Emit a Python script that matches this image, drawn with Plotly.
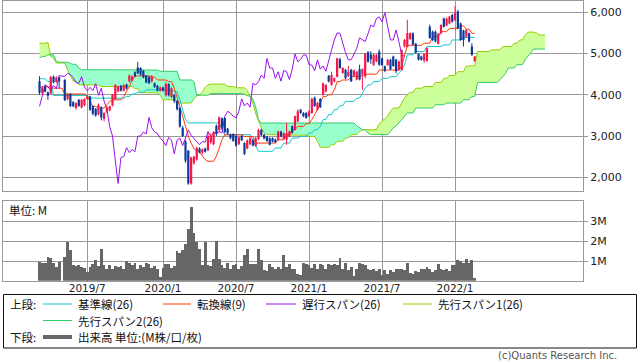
import plotly.graph_objects as go
import pandas as pd

# ---------------- data (weekly) ----------------
START = "2019-03-04"
N_PRICE = 156
N_CLOUD = 181
CHIKOU_SHIFT = 25

open_ = [4330, 4050, 4200, 4060, 4030, 4440, 4310, 4420, None, 4360,
         3890, 4020, 3820, 3680, 3880, 3690, 3750, 3900, 3960, 3720,
         3660, 3530, 3700, 3420, 3580, 3620, 3740, 3900, 4080, 4220,
         4100, 4250, 4320, 4350, 4550, 4660, 4650, 4580, 4460, 4430,
         4320, 4280, 4220, 4100, 4180, 3990, 4260, 3950, 4000, 3850,
         3680, 3200, 2870, 2650, 1850, 2350, 2430, 2700, 2600, 2700,
         2650, 2850, 2800, 3250, 3150, 3430, 3440, 3180, 3040, 3050,
         3000, 2800, 3000, 2830, 2700, 2800, 2900, 2760, 2930, 3150,
         3030, 2990, 2950, 2950, 2920, 2910, 3110, 2930, 2910, 2990,
         3240, 3150, 3360, 3640, 3560, 3560, 3480, 3560, 3930, 3640,
         3900, 4000, 4080, 4460, 4240, 4320, 4440, 4860, 4530, 4610,
         4450, 4610, 4460, 4370, 4620, 4500, 4450, 5030, 4980, 4730,
         4810, 5050, 4880, 4690, 4720, 4850, 4930, 4850, 4600, 4600,
         5170, 5160, 5350, 5490, 5240, 4990, 4930, 4830, 4820, 5650,
         5530, 5530, 5240, 5490, 5850, 5680, 5730, 5935, 5810, 6020,
         5730, 5560, 5410, 5490, 5170, 4820]

high = [4450, 4210, 4240, 4080, 4460, 4470, 4450, 4440, None, 4380,
        4050, 4040, 3850, 3820, 3900, 3900, 3920, 3990, 3980, 3750,
        3680, 3790, 3720, 3580, 3720, 3740, 4020, 4260, 4220, 4240,
        4260, 4270, 4490, 4470, 4570, 4800, 4670, 4600, 4480, 4450,
        4480, 4300, 4240, 4200, 4200, 4300, 4280, 4180, 4020, 3870,
        3700, 3250, 2900, 2650, 2500, 2520, 2740, 2730, 2700, 2720,
        3100, 3060, 3120, 3280, 3480, 3450, 3450, 3200, 3060, 3070,
        3040, 2990, 3020, 2850, 2920, 2980, 2920, 2980, 3180, 3180,
        3050, 3000, 2970, 2970, 2940, 3130, 3130, 3090, 3320, 3130,
        3260, 3500, 3650, 3660, 3580, 3580, 3620, 3930, 3960, 3830,
        3920, 4300, 4260, 4480, 4560, 4420, 4900, 4900, 4670, 4630,
        4700, 4630, 4610, 4580, 4730, 4640, 5010, 5060, 5060, 4990,
        4990, 5100, 4900, 4710, 4870, 4870, 4950, 4870, 4830, 5100,
        5350, 5820, 5510, 5510, 5260, 5010, 4950, 5010, 5150, 5700,
        5560, 5560, 5500, 5710, 5870, 5870, 5910, 5960, 6150, 6060,
        5750, 5580, 5590, 5510, 5250, 4940]

low = [4000, 4010, 4060, 3880, 4000, 4280, 4290, 4160, None, 3850,
       3870, 3700, 3700, 3640, 3710, 3670, 3720, 3880, 3610, 3500,
       3470, 3500, 3380, 3360, 3560, 3600, 3720, 3880, 4060, 4080,
       4080, 4130, 4300, 4330, 4430, 4500, 4470, 4400, 4280, 4260,
       4300, 4170, 4080, 4080, 4080, 3960, 3960, 3920, 3800, 3620,
       3200, 2980, 2350, 1820, 1820, 2300, 2400, 2580, 2560, 2600,
       2650, 2800, 2780, 3000, 3100, 3150, 3060, 3040, 2920, 2860,
       2740, 2780, 2880, 2540, 2680, 2780, 2750, 2740, 2900, 3000,
       2920, 2860, 2770, 2850, 2830, 2890, 2970, 2910, 2790, 2970,
       3060, 3130, 3340, 3540, 3460, 3420, 3460, 3540, 3710, 3620,
       3680, 3980, 4060, 4300, 4220, 4300, 4420, 4630, 4510, 4380,
       4430, 4310, 4440, 4350, 4350, 4120, 4400, 4780, 4750, 4700,
       4790, 4700, 4700, 4550, 4700, 4600, 4680, 4520, 4580, 4580,
       5150, 5150, 5330, 5200, 5000, 4830, 4830, 4780, 4800, 5360,
       5300, 5270, 5220, 5470, 5630, 5660, 5710, 5750, 5790, 5590,
       5310, 5170, 5390, 5270, 4940, 4800]

close = [4050, 4180, 4080, 3980, 4430, 4300, 4420, 4330, None, 3870,
         4000, 3730, 3720, 3800, 3730, 3880, 3900, 3960, 3640, 3540,
         3500, 3760, 3450, 3560, 3700, 3720, 4000, 4240, 4200, 4100,
         4230, 4150, 4470, 4450, 4450, 4520, 4490, 4420, 4300, 4280,
         4440, 4190, 4100, 4180, 4100, 4270, 3990, 4160, 3850, 3650,
         3230, 3000, 2400, 1850, 2480, 2500, 2720, 2600, 2680, 2620,
         3000, 3000, 3100, 3050, 3450, 3200, 3100, 3060, 2950, 2880,
         2770, 2970, 2900, 2570, 2900, 2950, 2770, 2950, 3150, 3020,
         2940, 2880, 2790, 2870, 2850, 3110, 2990, 3070, 3070, 3110,
         3080, 3480, 3600, 3560, 3480, 3440, 3600, 3900, 3730, 3800,
         3700, 4280, 4240, 4320, 4480, 4400, 4880, 4650, 4650, 4400,
         4560, 4330, 4590, 4560, 4370, 4620, 4990, 4800, 4860, 4970,
         4960, 4730, 4720, 4580, 4850, 4620, 4700, 4570, 4800, 5080,
         5330, 5500, 5490, 5220, 5020, 4850, 4850, 4990, 5130, 5380,
         5330, 5290, 5480, 5690, 5650, 5850, 5890, 5770, 5990, 5610,
         5330, 5330, 5570, 5290, 4970, 4930]

volume_m = [0.95, 0.93, 0.93, 1.22, 1.15, 0.93, 0.72, 0.95, None, 1.22,
            1.97, 1.57, 0.8, 0.75, 0.8, 0.7, 0.68, 0.45, 0.72, 0.85,
            1.07, 0.75, 1.6, 0.8, 0.6, 0.8, 0.6, 0.75, 0.7, 0.75,
            0.6, 1.0, 0.9, 0.8, 0.9, 0.62, 0.8, 0.7, 0.9, 0.85,
            0.65, 0.75, 0.6, 0.2, 0.68, 0.85, 0.85, 0.65, 0.75, 1.5,
            1.4, 1.55, 1.85, 2.6, 3.7, 2.4, 1.97, 1.6, 0.8, 1.97,
            0.8, 0.75, 1.1, 2.0, 1.1, 0.8, 0.65, 0.9, 0.6, 0.8,
            0.85, 0.6, 0.75, 1.3, 1.6, 0.85, 0.85, 0.88, 1.6, 1.05,
            0.55, 0.5, 0.88, 0.72, 0.63, 0.72, 0.6, 1.33, 0.72, 0.88,
            0.63, 0.63, 0.38, 0.33, 0.93, 0.88, 0.8, 0.67, 0.88, 0.63,
            0.88, 0.8, 0.63, 0.88, 0.8, 0.88, 0.8, 1.18, 0.63, 0.93,
            0.55, 0.72, 0.27, 0.6, 0.93, 0.88, 0.8, 0.63, 0.55, 0.6,
            0.5, 0.63, 0.33, 0.55, 0.38, 0.55, 0.47, 0.6, 0.6, 0.63,
            0.55, 0.93, 0.43, 0.38, 0.5, 0.47, 0.63, 0.6, 0.72, 0.6,
            0.47, 0.55, 0.88, 0.63, 0.55, 0.63, 0.5, 0.8, 0.83, 1.05,
            1.0, 0.93, 1.1, 0.93, 1.05, 0.17]

tenkan = [4190, 4190, 4190, 4190, 4190, 4160, 4160, 4160, 4160, 4020,
          4020, 4020, 4020, 4020, 4020, 4020, 4020, 3960, 3850, 3720,
          3720, 3680, 3680, 3680, 3760, 3840, 3880, 3880, 3880, 3880,
          3960, 4080, 4200, 4360, 4440, 4460, 4460, 4460, 4460, 4460,
          4430, 4430, 4360, 4360, 4360, 4360, 4320, 4320, 4160, 3960,
          3720, 3480, 3235, 3000, 2830, 2700, 2630, 2630, 2510, 2430,
          2390, 2390, 2390, 2510, 2710, 2910, 3030, 3030, 3030, 3030,
          3030, 3030, 3030, 2990, 2990, 2990, 2990, 2830, 2830, 2830,
          2830, 2830, 2830, 2830, 2830, 2910, 2910, 2910, 3030, 3030,
          3155, 3155, 3235, 3235, 3235, 3300, 3300, 3400, 3520, 3640,
          3800, 3960, 3960, 4000, 4000, 4120, 4320, 4320, 4360, 4360,
          4360, 4440, 4440, 4440, 4460, 4460, 4500, 4500, 4500, 4500,
          4500, 4600, 4600, 4600, 4600, 4600, 4600, 4600, 4600, 4700,
          4930, 5200, 5200, 5200, 5200, 5200, 5200, 5250, 5250, 5250,
          5410, 5410, 5410, 5530, 5530, 5530, 5610, 5610, 5610, 5610,
          5670, 5670, 5590, 5590, 5490, 5490]

kijun = [4390, 4390, 4390, 4320, 4320, 3985, 3985, 3985, 3985, 3985,
         3985, 3985, 3985, 3985, 3985, 3985, 3985, 3985, 3920, 3920,
         3920, 3920, 3920, 3920, 3920, 3920, 3920, 3920, 3920, 3920,
         3920, 3960, 3960, 4020, 4020, 4060, 4060, 4060, 4120, 4120,
         4120, 4120, 4120, 4120, 4120, 4120, 4120, 4120, 4080, 4080,
         3880, 3640, 3400, 3320, 3320, 3320, 3320, 3320, 3320, 3320,
         3320, 3320, 3320, 3320, 3320, 3155, 3035, 3035, 3035, 3035,
         3035, 3035, 3035, 3035, 3035, 3035, 2900, 2750, 2630, 2630,
         2630, 2630, 2630, 2630, 2710, 2710, 2710, 2830, 2830, 2830,
         2950, 2950, 2950, 2990, 2990, 2990, 3074, 3074, 3155, 3155,
         3235, 3400, 3400, 3520, 3520, 3640, 3640, 3740, 3740, 3840,
         3840, 3840, 3840, 3920, 3920, 4040, 4160, 4240, 4240, 4320,
         4320, 4320, 4400, 4400, 4400, 4440, 4440, 4440, 4530, 4600,
         4730, 4970, 4970, 4970, 5050, 5050, 5050, 5050, 5170, 5170,
         5170, 5170, 5170, 5170, 5210, 5210, 5210, 5330, 5330, 5330,
         5330, 5390, 5390, 5390, 5390, 5390]

span1 = [5250, 5250, 5250, 5270, 4930, 4890, 4770, 4770, 4770, 4770,
         4600, 4450, 4330, 4330, 4240, 4240, 4240, 4240, 4240, 4240,
         4240, 4240, 4200, 4200, 4200, 4200, 4200, 4200, 4200, 4200,
         4200, 4200, 4200, 4200, 4150, 4150, 4050, 4050, 4050, 4050,
         4050, 4050, 4050, 3990, 3880, 3880, 3880, 3880, 3880, 3800,
         3800, 3800, 3800, 3800, 3800, 3900, 3970, 4000, 4060, 4180,
         4240, 4260, 4260, 4260, 4260, 4260, 4260, 4200, 4200, 4200,
         4170, 4170, 4170, 4170, 4100, 3960, 3800, 3550, 3360, 3200,
         3074, 3035, 3035, 3035, 3035, 3035, 3035, 3035, 3035, 3020,
         3020, 3020, 3020, 3020, 3020, 3020, 2994, 2994, 2994, 2873,
         2730, 2730, 2730, 2730, 2790, 2790, 2873, 2873, 2873, 2955,
         2955, 3035, 3035, 3035, 3115, 3155, 3155, 3155, 3155, 3155,
         3155, 3300, 3360, 3400, 3480, 3600, 3680, 3680, 3680, 3800,
         3920, 4000, 4060, 4060, 4160, 4160, 4160, 4200, 4200, 4200,
         4200, 4300, 4300, 4300, 4400, 4400, 4470, 4470, 4470, 4560,
         4560, 4560, 4700, 4700, 4700, 4700, 5050, 5050, 5050, 5050,
         5050, 5090, 5090, 5090, 5090, 5170, 5170, 5170, 5170, 5250,
         5250, 5330, 5330, 5450, 5520, 5520, 5520, 5500, 5450, 5450,
         5450]

span2 = [4890, 4930, 4930, 4970, 4970, 4970, 4810, 4790, 4790, 4790,
         4790, 4760, 4740, 4740, 4650, 4610, 4610, 4610, 4610, 4610,
         4610, 4610, 4610, 4610, 4610, 4610, 4610, 4610, 4610, 4610,
         4610, 4610, 4610, 4610, 4600, 4600, 4600, 4600, 4600, 4600,
         4600, 4600, 4600, 4570, 4570, 4570, 4570, 4570, 4570, 4570,
         4360, 4360, 4360, 4360, 4360, 4320, 3990, 3990, 3990, 3990,
         3990, 4030, 4030, 4030, 4030, 4030, 4030, 4030, 4030, 4030,
         4030, 4030, 4030, 4010, 3990, 3960, 3900, 3700, 3400, 3316,
         3316, 3316, 3316, 3316, 3316, 3316, 3316, 3316, 3316, 3316,
         3316, 3316, 3316, 3316, 3316, 3316, 3316, 3316, 3316, 3316,
         3316, 3316, 3316, 3316, 3316, 3316, 3316, 3316, 3316, 3316,
         3316, 3316, 3316, 3250, 3200, 3155, 3155, 3074, 3035, 3035,
         3035, 3035, 3035, 3035, 3035, 3115, 3200, 3240, 3320, 3400,
         3480, 3560, 3560, 3560, 3680, 3680, 3680, 3680, 3680, 3680,
         3680, 3760, 3760, 3760, 3760, 3800, 3800, 3800, 3800, 3800,
         3800, 3880, 3880, 3880, 3960, 3960, 4300, 4300, 4300, 4300,
         4300, 4300, 4300, 4300, 4364, 4440, 4520, 4650, 4650, 4650,
         4730, 4730, 4730, 4850, 4930, 5010, 5110, 5110, 5110, 5110,
         5110]

tick_dates = ["2019-07-01", "2020-01-06", "2020-07-06", "2021-01-04", "2021-07-05", "2022-01-03"]
tick_labels = ["2019/7", "2020/1", "2020/7", "2021/1", "2021/7", "2022/1"]
price_ticks = [2000, 3000, 4000, 5000, 6000]
vol_ticks = [1, 2, 3]
vol_tick_labels = ["1M", "2M", "3M"]

for name, arr, n in [("open", open_, N_PRICE), ("high", high, N_PRICE), ("low", low, N_PRICE),
                     ("close", close, N_PRICE), ("volume", volume_m, N_PRICE),
                     ("tenkan", tenkan, N_PRICE), ("kijun", kijun, N_PRICE),
                     ("span1", span1, N_CLOUD), ("span2", span2, N_CLOUD)]:
    assert len(arr) == n, (name, len(arr))

# ---------------- styles ----------------
C_UP = "#F5164A"
C_DN = "#0D3A9A"
C_TENKAN = "#FF3A0A"
C_KIJUN = "#10C8CC"
C_CHIKOU = "#9A10F2"
C_SPAN1 = "#99CC00"
C_SPAN2 = "#33CC66"
FILL_YG = "#CCFF99"
FILL_AQ = "#99FFCC"
C_VOL = "#666666"
C_GRID = "#9A9A9A"
TICK_FONT = dict(family="DejaVu Sans", size=11, color="#222222")
XTICK_FONT = dict(family="DejaVu Sans", size=10.5, color="#222222")
JP_FONT = dict(family="Noto Sans CJK JP", size=11.5, color="#111111")

dates = pd.date_range(START, periods=N_CLOUD, freq="7D")
pdates = dates[:N_PRICE]

fig = go.Figure()

# ---- cloud fills ----
upper_yg = [max(a, b) for a, b in zip(span1, span2)]
lower_aq = [min(a, b) for a, b in zip(span1, span2)]
fig.add_trace(go.Scatter(x=dates, y=span2, mode="lines", line=dict(width=0), hoverinfo="skip"))
fig.add_trace(go.Scatter(x=dates, y=upper_yg, mode="lines", line=dict(width=0), fill="tonexty",
                         fillcolor=FILL_YG, hoverinfo="skip"))
fig.add_trace(go.Scatter(x=dates, y=span2, mode="lines", line=dict(width=0), hoverinfo="skip"))
fig.add_trace(go.Scatter(x=dates, y=lower_aq, mode="lines", line=dict(width=0), fill="tonexty",
                         fillcolor=FILL_AQ, hoverinfo="skip"))
fig.add_trace(go.Scatter(x=dates, y=span1, mode="lines", line=dict(color=C_SPAN1, width=1), hoverinfo="skip"))
fig.add_trace(go.Scatter(x=dates, y=span2, mode="lines", line=dict(color=C_SPAN2, width=1), hoverinfo="skip"))

# ---- kijun / tenkan / chikou ----
fig.add_trace(go.Scatter(x=pdates, y=kijun, mode="lines", line=dict(color=C_KIJUN, width=1), hoverinfo="skip"))
fig.add_trace(go.Scatter(x=pdates, y=tenkan, mode="lines", line=dict(color=C_TENKAN, width=1), hoverinfo="skip"))
fig.add_trace(go.Scatter(x=pdates[:N_PRICE - CHIKOU_SHIFT], y=close[CHIKOU_SHIFT:], mode="lines",
                         line=dict(color=C_CHIKOU, width=1), hoverinfo="skip"))

# ---- candles (drawn as segments so they sit above the cloud) ----
segs = {"up": ([], [], [], []), "dn": ([], [], [], [])}
for d, o, h, l, c in zip(pdates, open_, high, low, close):
    if o is None:
        continue
    k = "up" if c >= o else "dn"
    wx, wy, bx, by = segs[k]
    wx += [d, d, None]
    wy += [l, h, None]
    bx += [d, d, None]
    by += [o, c, None]
for k, col in (("up", C_UP), ("dn", C_DN)):
    wx, wy, bx, by = segs[k]
    fig.add_trace(go.Scatter(x=wx, y=wy, mode="lines", line=dict(color=col, width=1), hoverinfo="skip"))
    fig.add_trace(go.Scatter(x=bx, y=by, mode="lines", line=dict(color=col, width=2.2), hoverinfo="skip"))

# ---- volume ----
fig.add_trace(go.Bar(x=pdates, y=volume_m, marker=dict(color=C_VOL, line=dict(width=0)),
                     width=7 * 24 * 3600 * 1000, xaxis="x2", yaxis="y2", hoverinfo="skip"))

W, H = 638, 362
X_RANGE = ["2018-12-03", "2022-11-18"]
xdom = [3 / W, 583 / W]

common_x = dict(domain=xdom, range=X_RANGE, type="date", tickvals=tick_dates, showgrid=True,
                gridcolor=C_GRID, gridwidth=1, showline=True, linecolor=C_GRID, linewidth=1,
                mirror=True, ticks="", zeroline=False)

fig.update_layout(
    width=W, height=H, margin=dict(l=0, r=0, t=0, b=0),
    paper_bgcolor="white", plot_bgcolor="white", showlegend=False,
    bargap=0,
    xaxis=dict(**common_x, showticklabels=False, anchor="y"),
    xaxis2=dict(**common_x, ticktext=tick_labels, showticklabels=True, anchor="y2",
                matches="x", tickfont=XTICK_FONT, ticklabelstandoff=-2),
    yaxis=dict(domain=[1 - 190.7 / H, 1 - 1 / H], range=[1676, 6274], side="right",
               tickvals=price_ticks, tickformat=",d", ticks="outside", ticklen=4, tickcolor=C_GRID,
               showgrid=True, gridcolor=C_GRID, showline=True, linecolor=C_GRID, mirror=True,
               zeroline=False, tickfont=TICK_FONT),
    yaxis2=dict(domain=[1 - 280.7 / H, 1 - 201 / H], range=[0.03, 4.015], side="right",
                tickvals=vol_ticks, ticktext=vol_tick_labels, ticks="outside", ticklen=4,
                tickcolor=C_GRID, showgrid=True, gridcolor=C_GRID, showline=True, linecolor=C_GRID,
                mirror=True, zeroline=False, tickfont=TICK_FONT, anchor="x2"),
)

# ---- annotations / legend box ----
def px(x):
    return x / W

def py(y):
    return 1 - y / H

ann = []
ann.append(dict(x=px(7), y=py(210), text="単位: M", showarrow=False, xanchor="left", yanchor="middle",
                xref="paper", yref="paper", font=JP_FONT))

shapes = [dict(type="rect", xref="paper", yref="paper", x0=px(3.5), x1=px(636.5), y0=py(348), y1=py(294.5),
               line=dict(color="#111111", width=1), fillcolor="rgba(0,0,0,0)")]

legend_rows = [
    (304, [(43, 72, C_KIJUN, 1, "基準線(26)"), (163, 191, C_TENKAN, 1, "転換線(9)"),
           (266, 296, C_CHIKOU, 1, "遅行スパン(26)"), (403, 432, C_SPAN1, 1, "先行スパン1(26)")]),
    (320.5, [(43, 72, C_SPAN2, 1, "先行スパン2(26)")]),
    (337, [(43, 72, C_VOL, 4, "出来高 単位:(M株/口/枚)")]),
]
ann.append(dict(x=px(8), y=py(304), text="上段:", showarrow=False, xanchor="left", yanchor="middle",
                xref="paper", yref="paper", font=JP_FONT))
ann.append(dict(x=px(8), y=py(337), text="下段:", showarrow=False, xanchor="left", yanchor="middle",
                xref="paper", yref="paper", font=JP_FONT))
for yrow, items in legend_rows:
    for x0, x1, col, lw, label in items:
        shapes.append(dict(type="line", xref="paper", yref="paper", x0=px(x0), x1=px(x1),
                           y0=py(yrow), y1=py(yrow), line=dict(color=col, width=lw)))
        ann.append(dict(x=px(x1 + 4), y=py(yrow), text=label, showarrow=False, xanchor="left",
                        yanchor="middle", xref="paper", yref="paper", font=JP_FONT))

ann.append(dict(x=px(619), y=py(355), text="(c)Quants Research Inc.", showarrow=False, xanchor="right",
                yanchor="middle", xref="paper", yref="paper",
                font=dict(family="DejaVu Sans", size=10, color="#555555")))

fig.update_layout(annotations=ann, shapes=shapes)

fig.write_html("out.html", config={"displayModeBar": False},
               post_script="document.body.style.margin='0';document.body.style.overflow='hidden';")
